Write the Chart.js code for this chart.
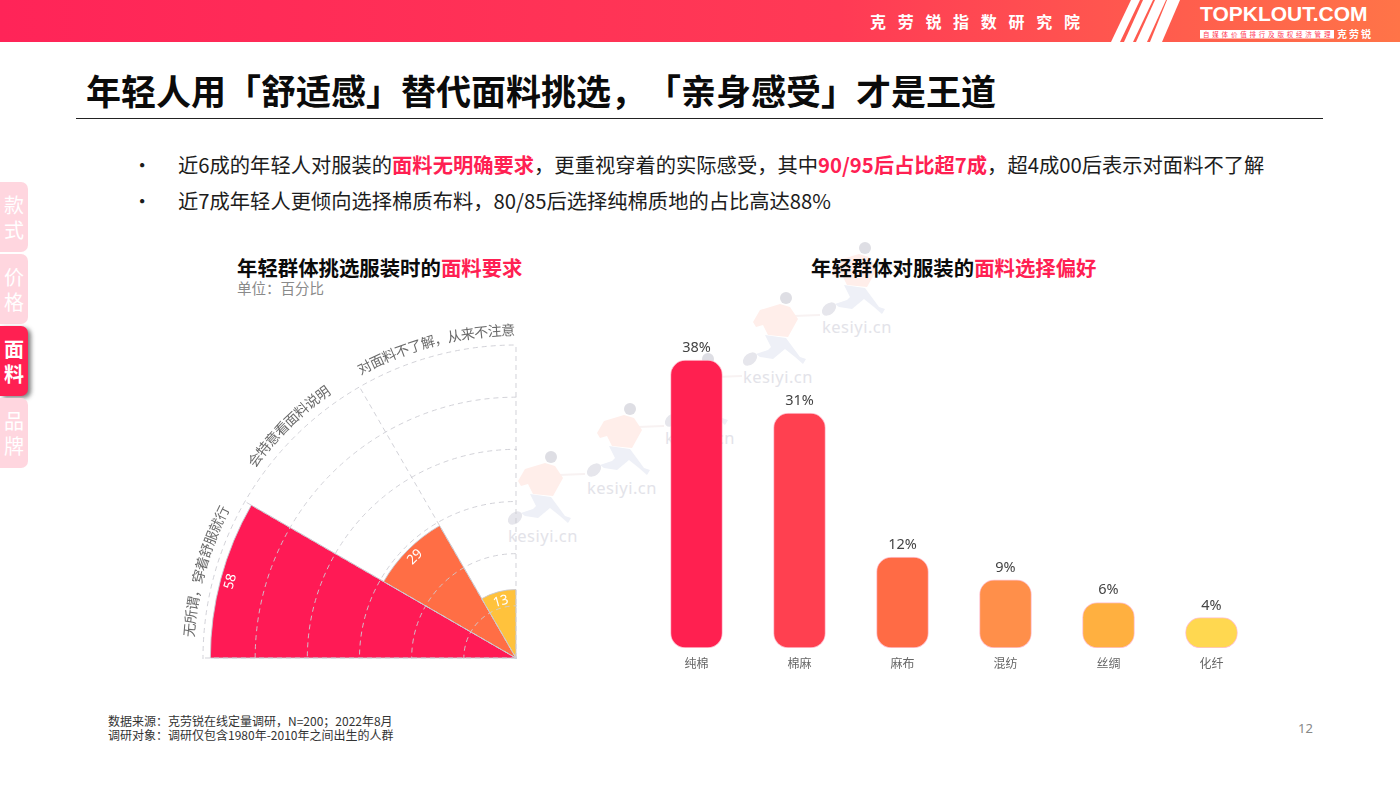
<!DOCTYPE html>
<html lang="zh">
<head>
<meta charset="utf-8">
<title>面料</title>
<script src="https://cdn.jsdelivr.net/npm/chart.js@4/dist/chart.umd.min.js"></script>
<style>
  html, body { margin: 0; padding: 0; }
  body { width: 1400px; height: 788px; position: relative; overflow: hidden; background: #fff;
         font-family: "Noto Sans CJK SC", "Noto Sans", sans-serif; color: #111; text-spacing-trim: space-all; }
  .abs { position: absolute; white-space: nowrap; }
  .red { color: #ff2052; }
  #header { left: 0; top: 0; width: 1400px; height: 42px; background: linear-gradient(90deg, #ff2458 0%, #ff3a55 60%, #ff7448 100%); }
  #title { left: 86px; top: 64px; font-size: 35px; line-height: 52px; font-weight: 700; color: #0b0b0b; }
  #rule { left: 76px; top: 118px; width: 1247px; height: 1px; background: #222; }
  .bullet { font-size: 20.3px; line-height: 28px; color: #1c1c1c; }
  .bullet b { color: #ff2052; }
  .sub { font-size: 20.4px; line-height: 28px; font-weight: 700; color: #0b0b0b; z-index: 3; }
  .tab { left: 0; width: 28px; height: 70px; background: #ffd6df; color: #fff; border-radius: 0 7px 7px 0;
         font-size: 20px; line-height: 25px; text-align: center; white-space: normal; display: flex; align-items: center; justify-content: center; }
  .tab.on { background: #ff2052; font-weight: 700; box-shadow: 3px 2px 4px rgba(60,60,60,.65); }
  .foot { font-size: 12px; line-height: 14px; color: #333; }
  #polarClip { left: 171px; top: 313px; width: 346px; height: 346px; overflow: hidden; z-index: 2; }
  #polarClip canvas { display: block; }
  #barChart { z-index: 2; }
  .mark { pointer-events: none; z-index: 1; }
  .mark span { position: absolute; left: 0; top: 75px; width: 70px; text-align: center; font-size: 16.5px; line-height: 20px; color: #e3e3e9; font-family: "Noto Sans", sans-serif; letter-spacing: .5px; }
</style>
</head>
<body>
<div class="abs" id="header"></div>
<svg class="abs" style="left:1100px;top:0" width="300" height="42">
  <polygon points="31,0 40,0 20,42 11,42" fill="#fff"/>
  <polygon points="43,0 53,0 33,42 24,42" fill="#fff"/>
  <polygon points="55,0 66,0 47,42 36,42" fill="#fff"/>
  <polygon points="67,0 80,0 62,42 50,42" fill="#fff"/>
  <rect x="100" y="30" width="134" height="8.5" fill="#fff"/>
</svg>
<div class="abs" style="left:870px;top:9px;font-size:16px;line-height:24px;font-weight:700;color:#fff;letter-spacing:11.7px">克劳锐指数研究院</div>
<div class="abs" style="left:1200px;top:0px;font-size:21px;line-height:28px;font-weight:700;color:#fff;font-family:'Liberation Sans'">TOPKLOUT.COM</div>
<div class="abs" style="left:1203px;top:30px;font-size:6.5px;line-height:9px;color:#ff3a55;letter-spacing:2.8px">自媒体价值排行及版权经济管理</div>
<div class="abs" style="left:1337px;top:27px;font-size:10px;line-height:14px;font-weight:700;color:#fff;letter-spacing:2px">克劳锐</div>

<div class="abs" id="title">年轻人用「舒适感」替代面料挑选，「亲身感受」才是王道</div>
<div class="abs" id="rule"></div>

<div class="abs bullet" style="left:132px;top:150px">•</div>
<div class="abs bullet" style="left:178px;top:150px">近6成的年轻人对服装的<b>面料无明确要求</b>，更重视穿着的实际感受，其中<b>90/95后占比超7成</b>，超4成00后表示对面料不了解</div>
<div class="abs bullet" style="left:132px;top:186px">•</div>
<div class="abs bullet" style="left:178px;top:186px">近7成年轻人更倾向选择棉质布料，80/85后选择纯棉质地的占比高达88%</div>

<div class="abs tab" style="top:182px">款<br>式</div>
<div class="abs tab" style="top:254px">价<br>格</div>
<div class="abs tab on" style="top:326px">面<br>料</div>
<div class="abs tab" style="top:398px">品<br>牌</div>

<div class="abs sub" style="left:237px;top:253px">年轻群体挑选服装时的<span class="red">面料要求</span></div>
<div class="abs" style="left:237px;top:278px;font-size:14.5px;line-height:20px;color:#8a8a8a">单位：百分比</div>
<div class="abs sub" style="left:811px;top:253px">年轻群体对服装的<span class="red">面料选择偏好</span></div>

<div class="abs" id="polarClip"><canvas id="polarChart" width="690" height="690"></canvas></div>
<canvas class="abs" id="barChart" width="618" height="345" style="left:645px;top:335px"></canvas>

<div class="abs foot" style="left:108px;top:714px">数据来源：克劳锐在线定量调研，N=200；2022年8月</div>
<div class="abs foot" style="left:108px;top:728px">调研对象：调研仅包含1980年-2010年之间出生的人群</div>
<div class="abs" style="left:1298px;top:719px;font-size:13px;line-height:18px;color:#888;font-family:'Noto Sans'">12</div>

<script>
// fabric requirement (left chart)
const requirementLabels = ['无所谓，穿着舒服就行', '会特意看面料说明', '对面料不了解，从来不注意'];
const requirementValues = [58, 29, 13];
const requirementColors = ['#ff1a55', '#ff6e45', '#ffc23c'];

// fabric preference (right chart)
const fabricLabels = ['纯棉', '棉麻', '麻布', '混纺', '丝绸', '化纤'];
const fabricValues = [38, 31, 12, 9, 6, 4];
const fabricColors = ['#ff2050', '#ff4050', '#ff6b45', '#ff8f4a', '#ffb040', '#ffd850'];

const cjk = '"Noto Sans CJK SC"';

// watermark spots, centre of each kesiyi.cn text
const markSpots = [[857, 327], [778, 377], [700, 438], [622, 488], [543, 536]];
markSpots.forEach(function(p) {
  const el = document.createElement('div');
  el.className = 'abs mark';
  el.style.left = (p[0] - 35) + 'px';
  el.style.top = (p[1] - 85) + 'px';
  el.innerHTML = '<svg width="85" height="76">' +
    '<path d="M50 24 L77 23" stroke="#f8f2f2" stroke-width="2" fill="none"/>' +
    '<path d="M10 30 L17 18 L37 12 L47 15 L55 27 L45 45 L25 43 L20 33 L13 35 Z" fill="#ffeeea"/>' +
    '<path d="M22 43 L43 46 L57 65 L63 67 L60 72 L52 65 L42 57 L30 67 L17 65 L13 62 L25 58 L28 55 Z" fill="#eef0f7"/>' +
    '<ellipse cx="7" cy="67" rx="8" ry="5.5" transform="rotate(-40 7 67)" fill="#e6e6ec"/>' +
    '<circle cx="43" cy="6" r="6" fill="#dedee4"/></svg><span>kesiyi.cn</span>';
  document.body.appendChild(el);
});

// writes each point label along the outer ring of the polar chart
const curvedLabels = {
  id: 'curvedLabels',
  afterDatasetsDraw(chart) {
    const ctx = chart.ctx;
    const meta = chart.getDatasetMeta(0);
    const scale = chart.scales.r;
    ctx.save();
    meta.data.forEach((arc, i) => {
      const mid = (arc.startAngle + arc.endAngle) / 2;
      // value inside the wedge
      const vr = arc.outerRadius - 10;
      ctx.save();
      ctx.translate(arc.x + vr * Math.cos(mid), arc.y + vr * Math.sin(mid));
      ctx.rotate(mid + Math.PI / 2);
      ctx.font = '13.5px "Noto Sans"';
      ctx.fillStyle = '#fff';
      ctx.textAlign = 'center';
      ctx.textBaseline = 'middle';
      ctx.fillText(requirementValues[i], 0, 0);
      ctx.restore();
      // category text, one glyph at a time
      const chars = Array.from(requirementLabels[i]);
      const r = scale.drawingArea + 15;
      const step = 13.6 / r;
      chars.forEach((ch, k) => {
        const a = mid + 0.01 + (k - (chars.length - 1) / 2) * step;
        ctx.save();
        ctx.translate(scale.xCenter + r * Math.cos(a), scale.yCenter + r * Math.sin(a));
        ctx.rotate(a + Math.PI / 2);
        ctx.font = '14px ' + cjk;
        ctx.fillStyle = '#6a6a6a';
        ctx.textAlign = 'center';
        ctx.textBaseline = 'middle';
        ctx.fillText(ch, 0, 0);
        ctx.restore();
      });
    });
    ctx.restore();
  }
};

new Chart(document.getElementById('polarChart'), {
  type: 'polarArea',
  data: {
    // 12 slots so the angle lines fall every 30 degrees, only 3 are filled
    labels: requirementLabels.concat(Array(9).fill('')),
    datasets: [{
      data: requirementValues,
      backgroundColor: requirementColors,
      borderColor: 'rgba(200,200,208,.9)',
      borderWidth: 1,
      angle: 30
    }]
  },
  options: {
    responsive: false,
    animation: false,
    layout: { padding: 32 },
    plugins: { legend: { display: false }, tooltip: { enabled: false } },
    scales: {
      r: {
        startAngle: -90,
        min: 0,
        max: 59.4,
        ticks: { display: false, stepSize: 9.9 },
        pointLabels: { display: false },
        grid: { circular: true, color: 'rgba(205,205,212,.9)', lineWidth: 1, z: 1 },
        border: { dash: [5, 4] },
        angleLines: { display: true, color: 'rgba(205,205,212,.9)', borderDash: [5, 4] }
      }
    }
  },
  plugins: [curvedLabels]
});

// percent text above every bar
const barValueLabels = {
  id: 'barValueLabels',
  afterDatasetsDraw(chart) {
    const ctx = chart.ctx;
    ctx.save();
    ctx.font = '14.5px "Noto Sans"';
    ctx.fillStyle = '#444';
    ctx.textAlign = 'center';
    ctx.textBaseline = 'bottom';
    chart.getDatasetMeta(0).data.forEach((bar, i) => {
      ctx.fillText(fabricValues[i] + '%', bar.x, bar.y - 5);
    });
    ctx.restore();
  }
};

new Chart(document.getElementById('barChart'), {
  type: 'bar',
  data: {
    labels: fabricLabels,
    datasets: [{
      data: fabricValues,
      backgroundColor: fabricColors,
      borderColor: 'rgba(255,170,190,.7)',
      borderWidth: 1,
      borderRadius: 15,
      borderSkipped: false,
      barThickness: 52
    }]
  },
  options: {
    responsive: false,
    animation: false,
    layout: { padding: { top: 10, left: 0, right: 0, bottom: 0 } },
    plugins: { legend: { display: false }, tooltip: { enabled: false } },
    scales: {
      x: {
        grid: { display: false },
        border: { display: false },
        ticks: { color: '#666', font: { family: cjk, size: 12 }, padding: 0, maxRotation: 0 },
        afterFit(axis) { axis.height = 32; }
      },
      y: { display: false, min: 0, max: 40 }
    }
  },
  plugins: [barValueLabels]
});
</script>
</body>
</html>
